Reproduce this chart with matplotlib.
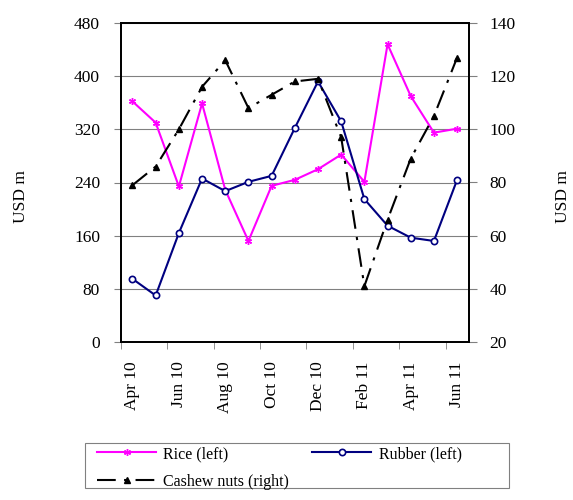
import numpy as np
import matplotlib
matplotlib.use("Agg")
import matplotlib.pyplot as plt
from matplotlib.lines import Line2D
from matplotlib.patches import Rectangle

plt.rcParams["font.family"] = ["Liberation Serif", "DejaVu Serif"]

months = ["Apr 10", "May 10", "Jun 10", "Jul 10", "Aug 10", "Sep 10", "Oct 10",
          "Nov 10", "Dec 10", "Jan 11", "Feb 11", "Mar 11", "Apr 11", "May 11", "Jun 11"]
rice = [362, 330, 234, 359, 229, 152, 235, 244, 260, 282, 241, 448, 370, 315, 321]
rubber = [95, 70, 164, 246, 227, 241, 250, 322, 392, 332, 215, 175, 157, 152, 244]
cashew = [79, 86, 100, 116, 126, 108, 113, 118, 119, 97, 41, 66, 89, 105, 127]

left_ticks = [0, 80, 160, 240, 320, 400, 480]
right_ticks = [20, 40, 60, 80, 100, 120, 140]

FS = 12.5
W, H = 573, 500

fig = plt.figure(figsize=(W / 100, H / 100), dpi=100)
ax = fig.add_axes([0.211, 0.316, 0.607, 0.638])
ax2 = ax.twinx()

x = np.arange(len(months))

rice_style = dict(color="#ff00ff", lw=1.5, marker=(6, 2, 0), ms=5, mew=1.0)
rubber_style = dict(color="#000080", lw=1.5, marker="o", ms=4.5, mfc="white",
                    mec="#000080", mew=1.2)
cashew_style = dict(color="black", lw=1.5, marker="^", ms=5, dashes=(9, 4, 1.5, 4))

ax.plot(x, rice, zorder=3, **rice_style)
ax.plot(x, rubber, zorder=3, **rubber_style)
ax2.plot(x, cashew, **cashew_style)

ax.set_xlim(-0.5, len(months) - 0.5)
ax.set_ylim(0, 480)
ax.set_yticks(left_ticks)
ax2.set_ylim(20, 140)
ax2.set_yticks(right_ticks)

ax.yaxis.grid(True, color="#808080", lw=0.8)
ax.set_axisbelow(True)

ax.set_xticks(x[::2])
ax.set_xticklabels(months[::2], rotation=90)
ax.set_xticks(np.arange(-0.5, len(months) - 1, 2), minor=True)
ax.tick_params(axis="x", which="major", length=0, pad=14, labelsize=FS)
ax.tick_params(axis="x", which="minor", length=5, direction="out", color="#808080")
ax.tick_params(axis="y", length=5, direction="out", labelsize=FS, color="#808080", pad=10)
ax2.tick_params(axis="y", length=6, direction="out", labelsize=FS, color="#808080", pad=9)

for a in (ax, ax2):
    for s in a.spines.values():
        s.set_color("black")
        s.set_linewidth(1.3)

fig.text(0.037, 0.606, "USD m", rotation=90, ha="center", va="center", fontsize=FS)
fig.text(0.982, 0.606, "USD m", rotation=90, ha="center", va="center", fontsize=FS)

# legend frame drawn separately (box is wider than the entries)
fig.patches.append(Rectangle((85 / W, 1 - 488 / H), 424 / W, 45 / H,
                             transform=fig.transFigure, fill=False,
                             edgecolor="#808080", lw=0.8))

# order so that ncol=2 fills rows as Rice | Rubber, then Cashew
handles = [
    Line2D([], [], **rice_style),
    Line2D([], [], **cashew_style),
    Line2D([], [], **rubber_style),
]
labels = ["Rice (left)", "Cashew nuts (right)", "Rubber (left)"]
fig.legend(handles, labels, ncol=2, loc="upper left",
           bbox_to_anchor=(97 / W, 1 - 446 / H), frameon=False, fontsize=11.5,
           handlelength=3.7, handletextpad=0.45, borderaxespad=0, borderpad=0,
           labelspacing=0.75, columnspacing=1.45)

fig.savefig("out.png", dpi=100)
